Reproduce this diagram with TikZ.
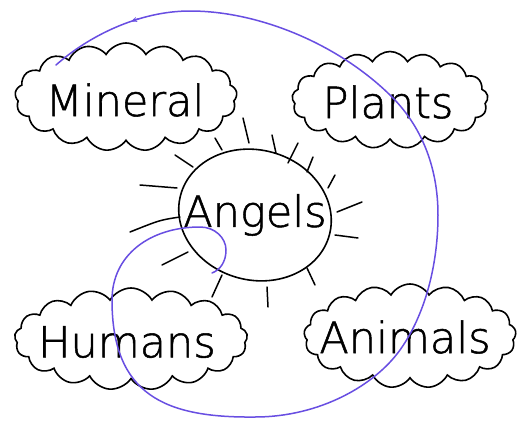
\documentclass[tikz,border=0pt]{standalone}
\usepackage{fontspec}
\setmainfont{DejaVu Sans ExtraLight}[FakeBold=1.2]
\usetikzlibrary{shapes.symbols,shapes.geometric,arrows.meta}
\definecolor{spiralcol}{RGB}{104,78,226}
\begin{document}
\begin{tikzpicture}[x=1pt,y=-1pt,
  cloudbox/.style={cloud, draw, line width=1.6pt, cloud puffs=17, cloud puff arc=120,
    cloud ignores aspect, inner sep=0pt},
  handtext/.style={font=\fontsize{43}{43}\selectfont, inner sep=0pt},
  ray/.style={line width=1.5pt, line cap=round},
  spiralline/.style={draw=spiralcol, line width=1.5pt, line cap=round}]
\useasboundingbox[fill=white] (0,0) rectangle (523,423);

% clouds
\node[cloudbox, minimum width=222pt, minimum height=108pt] (mineral) at (126,97) {};
\node[handtext] (mineraltext) at (125,100) {Mineral};
\node[cloudbox, minimum width=196pt, minimum height=97pt] (plants) at (390,100) {};
\node[handtext] (plantstext) at (388,102) {Plants};
\node[cloudbox, minimum width=233pt, minimum height=102pt] (humans) at (131,339) {};
\node[handtext] (humanstext) at (127,342) {Humans};
\node[cloudbox, minimum width=212pt, minimum height=104pt] (animals) at (410,336) {};
\node[handtext] (animalstext) at (405,337) {Animals};

% angels sun
\node[ellipse, inner sep=0pt, minimum width=150pt, minimum height=128pt,
  handtext] (angels) at (255,215) {Angels};
\draw[line width=1.6pt, rotate around={-15:(angels.center)}] (angels.center) ellipse [x radius=77, y radius=65];

% rays
\draw[ray] (215,138) -- (222,150);
\draw[ray] (243,118) -- (249,143);
\draw[ray] (272,135) -- (276,153);
\draw[ray] (298,143) -- (288,163);
\draw[ray] (313,157) -- (307,172);
\draw[ray] (335,175) -- (328,188);
\draw[ray] (362,202) -- (337,212);
\draw[ray] (358,238) -- (335,235);
\draw[ray] (307,268) -- (315,285);
\draw[ray] (267,287) -- (268,307);
\draw[ray] (222,275) -- (212,297);
\draw[ray] (188,252) -- (162,265);
\draw[ray] (180,217) .. controls (160,220) .. (130,232);
\draw[ray] (177,188) -- (140,185);
\draw[ray] (193,167) -- (175,155);

% spiral
\coordinate (s0) at (56,65);
\coordinate (s1) at (190,11);
\coordinate (s2) at (392,97);
\coordinate (s3) at (438,215);
\coordinate (s4) at (400,350);
\coordinate (s5) at (255,417);
\coordinate (s6) at (112,300);
\coordinate (s7) at (200,227);
\coordinate (s8) at (226,250);
\coordinate (s9) at (212,273);
\draw[spiralline] (s0)
  .. controls (90,35) and (140,11) .. (s1)
  .. controls (260,11) and (340,45) .. (s2)
  .. controls (420,125) and (438,165) .. (s3)
  .. controls (438,265) and (425,315) .. (s4)
  .. controls (375,385) and (320,417) .. (s5)
  .. controls (165,418) and (112,395) .. (s6)
  .. controls (112,255) and (150,227) .. (s7)
  .. controls (215,227) and (226,238) .. (s8)
  .. controls (226,262) and (220,270) .. (s9);
\coordinate (arrowfrom) at (138.6,18.8);
\coordinate (arrowto) at (131,21.4);
\draw[spiralline, -{Stealth[length=6pt,width=5pt]}] (arrowfrom) -- (arrowto);
\end{tikzpicture}
\end{document}
